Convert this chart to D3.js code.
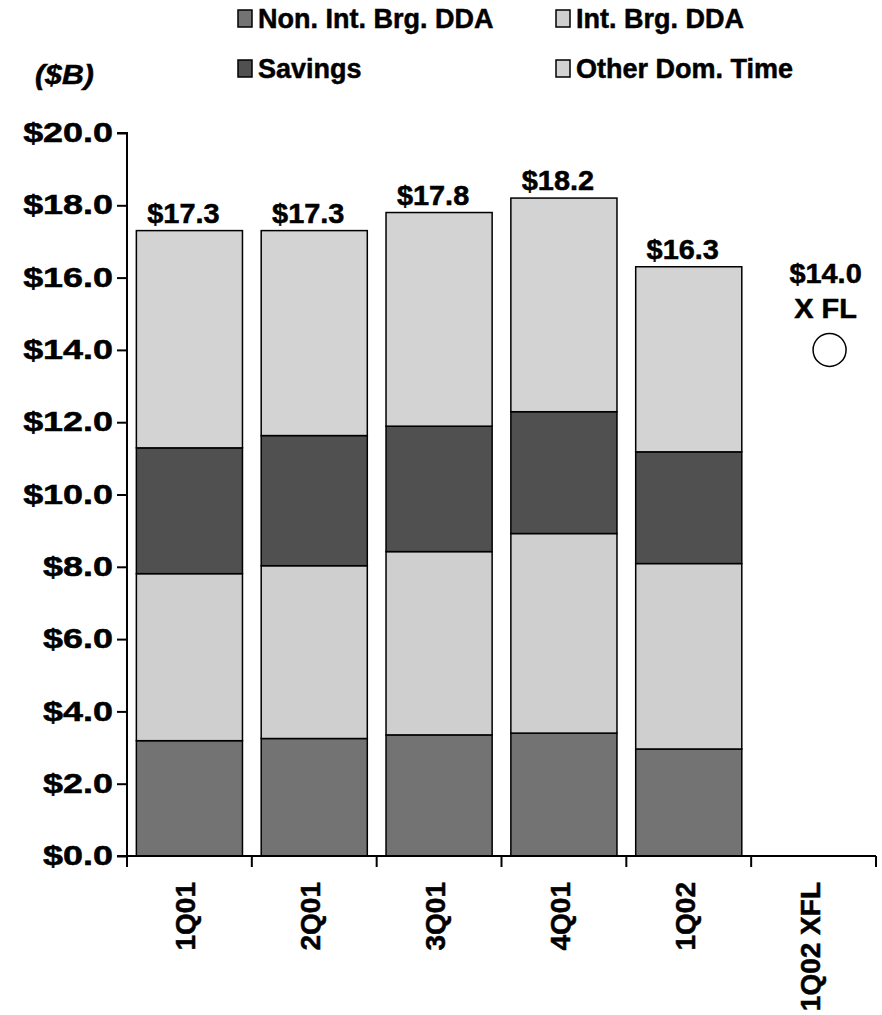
<!DOCTYPE html>
<html>
<head>
<meta charset="utf-8">
<script src="https://cdn.jsdelivr.net/npm/d3@7"></script>
<style>
  html, body { margin: 0; padding: 0; background: #fff; }
  svg { display: block; font-family: "Liberation Sans", Arial, Helvetica, sans-serif; font-weight: bold; }
  svg text { stroke: #000; stroke-width: 0.5px; }
</style>
</head>
<body>
<svg id="chart" width="882" height="1015"></svg>
<script>
// Deposit mix by quarter ($B)
const quarters = ["1Q01", "2Q01", "3Q01", "4Q01", "1Q02", "1Q02 XFL"];
const nonIntBrgDDA = [3.19, 3.25, 3.35, 3.40, 2.96];
const intBrgDDA    = [4.62, 4.78, 5.07, 5.52, 5.13];
const savings      = [3.48, 3.60, 3.47, 3.37, 3.09];
const otherDomTime = [6.01, 5.67, 5.91, 5.91, 5.12];
const totals       = [17.3, 17.3, 17.8, 18.2, 16.3];
const totalLabels  = ["$17.3", "$17.3", "$17.8", "$18.2", "$16.3"];
const xflValue = 14.0;
const xflLabels = ["$14.0", "X FL"];
const yTicks = [0, 2, 4, 6, 8, 10, 12, 14, 16, 18, 20];
const seriesNames = ["Non. Int. Brg. DDA", "Int. Brg. DDA", "Savings", "Other Dom. Time"];
const seriesColors = ["#737373", "#cfcfcf", "#505050", "#d3d3d3"];

const svg = d3.select("#chart");

// widen glyphs horizontally to the chart's lettering proportions
function widen(sel, k) {
  sel.each(function () {
    const len = this.getComputedTextLength();
    d3.select(this).attr("textLength", len * k).attr("lengthAdjust", "spacingAndGlyphs");
  });
}

const x = d3.scaleBand().domain(quarters).range([127, 876]).paddingInner(0.15).paddingOuter(0.075);
const y = d3.scaleLinear().domain([0, 20]).range([856, 133]);

// stacked rows
const rows = quarters.slice(0, 5).map((q, i) => ({
  q, s0: nonIntBrgDDA[i], s1: intBrgDDA[i], s2: savings[i], s3: otherDomTime[i]
}));
const stack = d3.stack().keys(["s0", "s1", "s2", "s3"]);
const layers = stack(rows);

const gBars = svg.append("g");
layers.forEach((layer, li) => {
  gBars.selectAll(null).data(layer).enter().append("rect")
    .attr("x", d => x(d.data.q))
    .attr("width", x.bandwidth())
    .attr("y", d => y(d[1]))
    .attr("height", d => y(d[0]) - y(d[1]))
    .attr("fill", seriesColors[li])
    .attr("stroke", "#000")
    .attr("stroke-width", 1.5);
});

// total labels
svg.append("g").selectAll("text").data(totals).enter().append("text")
  .attr("x", (d, i) => x(quarters[i]) + x.bandwidth() / 2 - 6)
  .attr("y", d => y(d) - 8)
  .attr("text-anchor", "middle")
  .attr("font-size", 27)
  .text((d, i) => totalLabels[i])
  .call(widen, 1.07);

// y axis
const yAxis = d3.axisLeft(y).tickValues(yTicks).tickSize(10).tickPadding(4)
  .tickFormat(d => "$" + d3.format(".1f")(d));
const gy = svg.append("g").attr("transform", "translate(127,0)").call(yAxis);
gy.select(".domain").attr("stroke", "#000").attr("stroke-width", 2).attr("d", `M-10,${y(20)}H0V${y(0)}H-10`);
gy.selectAll(".tick line").attr("stroke", "#000").attr("stroke-width", 2);
gy.selectAll(".tick text").attr("font-size", 27).attr("font-weight", "bold")
  .attr("font-family", "'Liberation Sans', Arial, sans-serif").attr("fill", "#000")
  .call(widen, 1.33);

// x axis with ticks on band boundaries
const step = x.step();
const x0 = x.range()[0];
const gx = svg.append("g");
gx.append("line").attr("x1", x0).attr("x2", x.range()[1]).attr("y1", y(0)).attr("y2", y(0))
  .attr("stroke", "#000").attr("stroke-width", 2);
gx.selectAll("line.tk").data(d3.range(quarters.length + 1)).enter().append("line")
  .attr("class", "tk")
  .attr("x1", i => x0 + i * step).attr("x2", i => x0 + i * step)
  .attr("y1", y(0)).attr("y2", y(0) + 11)
  .attr("stroke", "#000").attr("stroke-width", 2);
gx.selectAll("text").data(quarters).enter().append("text")
  .attr("transform", d => `translate(${x(d) + x.bandwidth() / 2 - 3.5},${y(0) + 26}) rotate(-90)`)
  .attr("text-anchor", "end")
  .attr("dominant-baseline", "central")
  .attr("font-size", 28)
  .text(d => d);

// XFL marker
const xc = x("1Q02 XFL") + x.bandwidth() / 2;
svg.append("circle")
  .attr("cx", xc + 16).attr("cy", y(xflValue)).attr("r", 16.5)
  .attr("fill", "#fff").attr("stroke", "#000").attr("stroke-width", 1.5);
svg.append("g").selectAll("text").data(xflLabels).enter().append("text")
  .attr("x", xc + 12)
  .attr("y", (d, i) => y(xflValue) - 67 + i * 35)
  .attr("text-anchor", "middle")
  .attr("font-size", 27)
  .text(d => d)
  .call(widen, 1.07);

// unit label
svg.append("text").attr("x", 35).attr("y", 84).attr("font-size", 27).attr("font-style", "italic")
  .text("($B)").call(widen, 1.12);

// legend
const legendPos = [[238, 28], [556, 28], [238, 78], [556, 78]];
const gl = svg.append("g");
seriesNames.forEach((name, i) => {
  const [lx, ly] = legendPos[i];
  gl.append("rect").attr("x", lx).attr("y", ly - 18).attr("width", 14).attr("height", 17)
    .attr("fill", seriesColors[i]).attr("stroke", "#000").attr("stroke-width", 1.5);
  gl.append("text").attr("x", lx + 20).attr("y", ly).attr("font-size", 27).text(name).call(widen, 1.0);
});
</script>
</body>
</html>
